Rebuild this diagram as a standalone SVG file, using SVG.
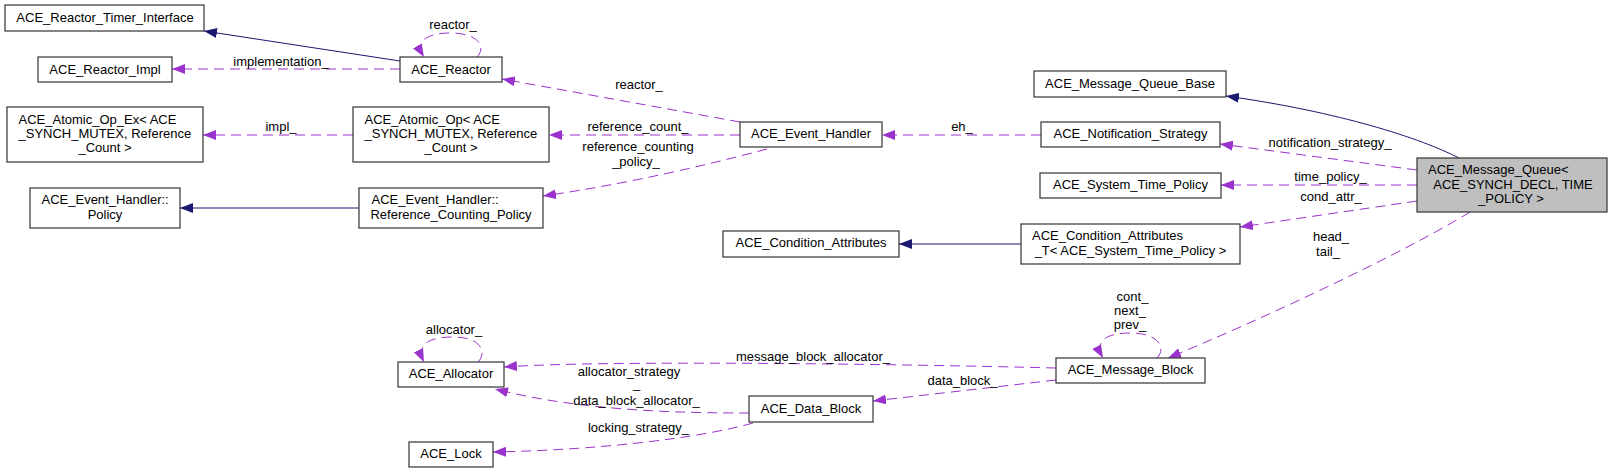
<svg xmlns="http://www.w3.org/2000/svg" width="1612" height="473" viewBox="0 0 1612 473">
<style>
text{font-family:"Liberation Sans",Arial,sans-serif;font-size:13px;fill:#000}
.m{text-anchor:middle}
.s{text-anchor:start}
.box{fill:#fff;stroke:#333;stroke-width:1.2}
.cur{fill:#bfbfbf;stroke:#333;stroke-width:1.2}
.gen{fill:none;stroke:#191970;stroke-width:1;marker-end:url(#an)}
.use{fill:none;stroke:#9a32cd;stroke-width:1;stroke-dasharray:10,6;marker-end:url(#ap)}
</style>
<defs>
<marker id="an" viewBox="0 0 13 10" refX="13" refY="5" markerWidth="13" markerHeight="10" markerUnits="userSpaceOnUse" orient="auto"><path d="M0,0 L13,5 L0,10 z" fill="#191970" stroke="none"/></marker>
<marker id="ap" viewBox="0 0 13 10" refX="13" refY="5" markerWidth="13" markerHeight="10" markerUnits="userSpaceOnUse" orient="auto"><path d="M0,0 L13,5 L0,10 z" fill="#9a32cd" stroke="none"/></marker>
</defs>
<rect width="1612" height="473" fill="#fff"/>
<g id="connectors">
<path class="gen" d="M400,61 L204,31"/>
<path class="use" d="M400,69 L172,69"/>
<path class="use" d="M477,57 C486,48 480,33 450,33 C426,33 415,42 424,57"/>
<path class="use" d="M740,122 L502,79"/>
<path class="use" d="M740,135 L549,135"/>
<path class="use" d="M767,149 C700,167 620,185 543,196"/>
<path class="use" d="M353,135 L203,135"/>
<path class="gen" d="M359,208 L180,208"/>
<path class="use" d="M1041,135 L882,135"/>
<path class="gen" d="M1459,158 C1420,138 1340,112 1226,96"/>
<path class="use" d="M1417,170 L1220,144"/>
<path class="use" d="M1417,185 L1221,185"/>
<path class="use" d="M1417,201 L1240,227"/>
<path class="gen" d="M1021,244 L899,244"/>
<path class="use" d="M1470,212 C1400,255 1260,320 1168,358"/>
<path class="use" d="M1157,358 C1166,349 1160,333 1130,333 C1105,333 1094,342 1103,358"/>
<path class="use" d="M1056,368 C900,364 600,360 504,367"/>
<path class="use" d="M1056,380 L873,401"/>
<path class="use" d="M749,413 C680,413 580,411 495,389"/>
<path class="use" d="M753,423 C700,438 600,450 493,452"/>
<path class="use" d="M478,362 C487,353 482,337 453,337 C428,337 416,345 424,362"/>
<text class="m" x="281" y="66">implementation_</text>
<text class="m" x="453" y="29">reactor_</text>
<text class="m" x="281" y="131">impl_</text>
<text class="m" x="639" y="89">reactor_</text>
<text class="m" x="638" y="131">reference_count_</text>
<text class="m" x="638" y="151">reference_counting</text>
<text class="m" x="636" y="165.5">_policy_</text>
<text class="m" x="962" y="131">eh_</text>
<text class="m" x="1330" y="147">notification_strategy_</text>
<text class="m" x="1330.5" y="181">time_policy_</text>
<text class="m" x="1331" y="201">cond_attr_</text>
<text class="m" x="1331" y="241">head_</text>
<text class="m" x="1328" y="256">tail_</text>
<text class="m" x="1132.5" y="300.5">cont_</text>
<text class="m" x="1130" y="315">next_</text>
<text class="m" x="1130" y="329">prev_</text>
<text class="m" x="813" y="361">message_block_allocator_</text>
<text class="m" x="962.5" y="384.5">data_block_</text>
<text class="m" x="454" y="334">allocator_</text>
<text class="m" x="629" y="375.5">allocator_strategy</text>
<text class="m" x="636.5" y="388">_</text>
<text class="m" x="636.5" y="404.5">data_block_allocator_</text>
<text class="m" x="638.5" y="432">locking_strategy_</text>
</g>
<g id="n_timer"><rect class="box" x="5" y="5" width="199" height="26"/><text class="m" x="105" y="22">ACE_Reactor_Timer_Interface</text></g>
<g id="n_reactor_impl"><rect class="box" x="38" y="57" width="134" height="25"/><text class="m" x="105" y="73.5">ACE_Reactor_Impl</text></g>
<g id="n_reactor"><rect class="box" x="400" y="57" width="102" height="25"/><text class="m" x="451" y="73.5">ACE_Reactor</text></g>
<g id="n_atomic_ex"><rect class="box" x="7" y="107" width="196" height="55"/><text class="s" x="18.5" y="123.5">ACE_Atomic_Op_Ex&lt; ACE</text><text class="s" x="18.5" y="137.8">_SYNCH_MUTEX, Reference</text><text class="m" x="105" y="152">_Count &gt;</text></g>
<g id="n_atomic"><rect class="box" x="353" y="107" width="196" height="55"/><text class="s" x="364.5" y="123.5">ACE_Atomic_Op&lt; ACE</text><text class="s" x="364.5" y="137.8">_SYNCH_MUTEX, Reference</text><text class="m" x="451" y="152">_Count &gt;</text></g>
<g id="n_policy"><rect class="box" x="30" y="188" width="150" height="40"/><text class="s" x="41.5" y="204.3">ACE_Event_Handler::</text><text class="m" x="105" y="218.6">Policy</text></g>
<g id="n_rcpolicy"><rect class="box" x="359" y="188" width="184" height="40"/><text class="s" x="371.5" y="204.3">ACE_Event_Handler::</text><text class="m" x="451" y="218.6">Reference_Counting_Policy</text></g>
<g id="n_event_handler"><rect class="box" x="740" y="122" width="142" height="25"/><text class="m" x="811" y="138">ACE_Event_Handler</text></g>
<g id="n_cond_attr"><rect class="box" x="723" y="231" width="176" height="26"/><text class="m" x="811" y="247">ACE_Condition_Attributes</text></g>
<g id="n_mq_base"><rect class="box" x="1034" y="71" width="192" height="26"/><text class="m" x="1130" y="87.5">ACE_Message_Queue_Base</text></g>
<g id="n_notif"><rect class="box" x="1041" y="122" width="179" height="25"/><text class="m" x="1130.5" y="138">ACE_Notification_Strategy</text></g>
<g id="n_systime"><rect class="box" x="1040" y="173" width="181" height="25"/><text class="m" x="1130.5" y="189">ACE_System_Time_Policy</text></g>
<g id="n_cond_attr_t"><rect class="box" x="1021" y="224" width="219" height="40"/><text class="s" x="1032" y="240.3">ACE_Condition_Attributes</text><text class="m" x="1130.5" y="255.3">_T&lt; ACE_System_Time_Policy &gt;</text></g>
<g id="n_mq"><rect class="cur" x="1417" y="158" width="190" height="54"/><text class="s" x="1428" y="174.3">ACE_Message_Queue&lt;</text><text class="m" x="1513" y="188.8">ACE_SYNCH_DECL, TIME</text><text class="m" x="1511" y="203.3">_POLICY &gt;</text></g>
<g id="n_mblock"><rect class="box" x="1056" y="358" width="149" height="25"/><text class="m" x="1130.5" y="374.3">ACE_Message_Block</text></g>
<g id="n_dblock"><rect class="box" x="749" y="396" width="124" height="26"/><text class="m" x="811" y="413.3">ACE_Data_Block</text></g>
<g id="n_alloc"><rect class="box" x="398" y="362" width="106" height="25"/><text class="m" x="451" y="378.3">ACE_Allocator</text></g>
<g id="n_lock"><rect class="box" x="409" y="442" width="84" height="25"/><text class="m" x="451" y="458.3">ACE_Lock</text></g>
</svg>
